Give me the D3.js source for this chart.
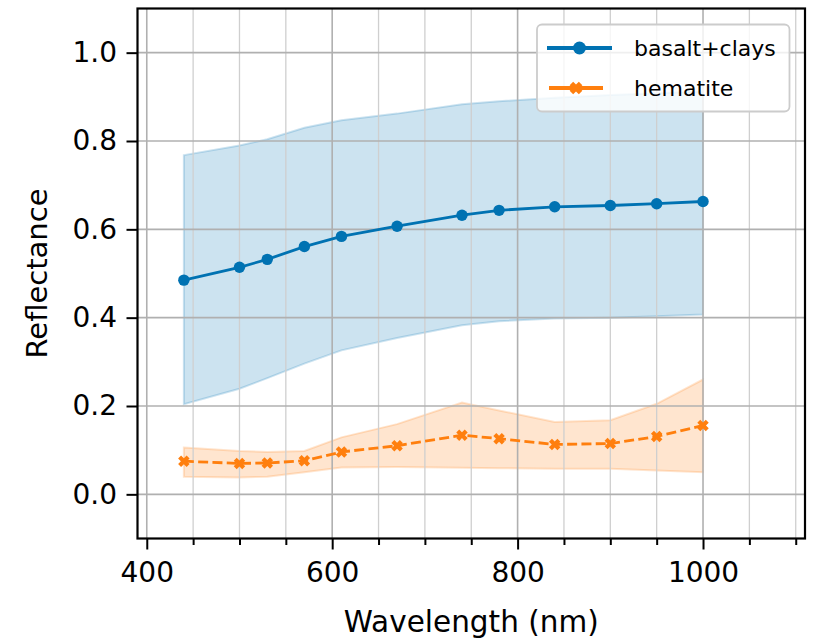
<!DOCTYPE html>
<html>
<head>
<meta charset="utf-8">
<script src="https://cdn.jsdelivr.net/npm/d3@7"></script>
<style>
  html, body { margin: 0; padding: 0; background: #ffffff; }
  svg { display: block; font-family: "DejaVu Sans", sans-serif; }
</style>
</head>
<body>
<svg id="chart" width="818" height="639"></svg>
<script>
// Wavelength samples (nm)
const wavelengths = [440, 500, 530, 570, 610, 670, 740, 780, 840, 900, 950, 1000];

// basalt+clays: mean reflectance and spread band
const basaltMean = [0.485, 0.514, 0.532, 0.561, 0.584, 0.607, 0.632, 0.643, 0.651, 0.654, 0.658, 0.663];
const basaltLow  = [0.204, 0.239, 0.263, 0.296, 0.326, 0.354, 0.383, 0.392, 0.398, 0.400, 0.403, 0.407];
const basaltHigh = [0.768, 0.790, 0.804, 0.830, 0.847, 0.862, 0.883, 0.890, 0.898, 0.904, 0.908, 0.912];

// hematite: mean reflectance and spread band
const hematiteMean = [0.075, 0.070, 0.071, 0.076, 0.096, 0.110, 0.134, 0.126, 0.113, 0.115, 0.131, 0.156];
const hematiteLow  = [0.040, 0.038, 0.040, 0.050, 0.061, 0.062, 0.060, 0.059, 0.058, 0.058, 0.054, 0.050];
const hematiteHigh = [0.106, 0.098, 0.096, 0.098, 0.129, 0.159, 0.208, 0.190, 0.164, 0.168, 0.205, 0.260];

// Axis ticks
const xMajorTicks = [400, 600, 800, 1000];
const xMinorTicks = [450, 500, 550, 650, 700, 750, 850, 900, 950, 1050, 1100];
const yTicks = [0.0, 0.2, 0.4, 0.6, 0.8, 1.0];

const seriesNames = ["basalt+clays", "hematite"];
const blue = "#0072b2";
const orange = "#ff7f0e";

const svg = d3.select("#chart");
const plotLeft = 137.5, plotRight = 805, plotTop = 8.5, plotBottom = 538.5;

const x = d3.scaleLinear().domain([390, 1110]).range([plotLeft, plotRight]);
const y = d3.scaleLinear().domain([-0.1, 1.1]).range([plotBottom, plotTop]);

const series = [
  { name: seriesNames[0], mean: basaltMean, low: basaltLow, high: basaltHigh, color: blue },
  { name: seriesNames[1], mean: hematiteMean, low: hematiteLow, high: hematiteHigh, color: orange }
];

// Filled "X" marker path centred on 0,0
function xMarker(size, arm) {
  const a = size / 2, w = arm / 2;
  const pts = [[-w, -a], [w, -a], [w, -w], [a, -w], [a, w], [w, w], [w, a], [-w, a], [-w, w], [-a, w], [-a, -w], [-w, -w]];
  const c = Math.SQRT1_2;
  return "M" + pts.map(p => [(p[0] - p[1]) * c, (p[0] + p[1]) * c].map(v => v.toFixed(2)).join(",")).join("L") + "Z";
}

// Spread bands
const bands = svg.append("g");
series.forEach(s => {
  const area = d3.area()
    .x((d, i) => x(wavelengths[i]))
    .y0((d, i) => y(s.low[i]))
    .y1((d, i) => y(s.high[i]));
  bands.append("path")
    .datum(s.mean)
    .attr("d", area)
    .attr("fill", s.color)
    .attr("fill-opacity", 0.2)
    .attr("stroke", s.color)
    .attr("stroke-opacity", 0.2)
    .attr("stroke-width", 2);
});

// Grid: minor vertical, major vertical, horizontal
const grid = svg.append("g");
grid.selectAll(".gxm").data(xMinorTicks).join("line")
  .attr("x1", d => x(d)).attr("x2", d => x(d))
  .attr("y1", plotTop).attr("y2", plotBottom)
  .attr("stroke", "#cfcfcf").attr("stroke-width", 1.3);
grid.selectAll(".gxM").data(xMajorTicks).join("line")
  .attr("x1", d => x(d)).attr("x2", d => x(d))
  .attr("y1", plotTop).attr("y2", plotBottom)
  .attr("stroke", "#b0b0b0").attr("stroke-width", 1.6);
grid.selectAll(".gy").data(yTicks).join("line")
  .attr("x1", plotLeft).attr("x2", plotRight)
  .attr("y1", d => y(d)).attr("y2", d => y(d))
  .attr("stroke", "#b0b0b0").attr("stroke-width", 1.6);

// Mean lines and markers
const lineGen = d3.line().x((d, i) => x(wavelengths[i])).y(d => y(d));
const marks = svg.append("g");
marks.append("path").datum(basaltMean).attr("d", lineGen)
  .attr("fill", "none").attr("stroke", blue).attr("stroke-width", 2.8);
marks.selectAll(".bdot").data(basaltMean).join("circle")
  .attr("cx", (d, i) => x(wavelengths[i])).attr("cy", d => y(d))
  .attr("r", 5.7).attr("fill", blue);

marks.append("path").datum(hematiteMean).attr("d", lineGen)
  .attr("fill", "none").attr("stroke", orange).attr("stroke-width", 2.8)
  .attr("stroke-dasharray", "10,4.3");
marks.selectAll(".hx").data(hematiteMean).join("path")
  .attr("transform", (d, i) => `translate(${x(wavelengths[i])},${y(d)})`)
  .attr("d", xMarker(12, 4.2)).attr("fill", orange);

// Frame
svg.append("rect")
  .attr("x", plotLeft).attr("y", plotTop)
  .attr("width", plotRight - plotLeft).attr("height", plotBottom - plotTop)
  .attr("fill", "none").attr("stroke", "#000").attr("stroke-width", 2.2);

// X axis
const xAxis = d3.axisBottom(x).tickValues(xMajorTicks).tickSize(11).tickPadding(13).tickFormat(d3.format("d"));
const gx = svg.append("g").attr("transform", `translate(0,${plotBottom})`).call(xAxis);
const xAxisMinor = d3.axisBottom(x).tickValues(xMinorTicks).tickSize(6.5).tickFormat("");
const gxm = svg.append("g").attr("transform", `translate(0,${plotBottom})`).call(xAxisMinor);

// Y axis
const yAxis = d3.axisLeft(y).tickValues(yTicks).tickSize(11).tickPadding(9.5).tickFormat(d3.format(".1f"));
const gy = svg.append("g").attr("transform", `translate(${plotLeft},0)`).call(yAxis);

[gx, gxm, gy].forEach(g => {
  g.select(".domain").remove();
  g.selectAll(".tick line").attr("stroke", "#000").attr("stroke-width", 2);
  g.selectAll(".tick text").attr("fill", "#000")
    .style("font-family", "'DejaVu Sans', sans-serif").style("font-size", "28px");
});

// Axis titles
svg.append("text")
  .attr("x", (plotLeft + plotRight) / 2).attr("y", 632)
  .attr("text-anchor", "middle")
  .style("font-size", "29.5px")
  .text("Wavelength (nm)");
svg.append("text")
  .attr("transform", `translate(47,${(plotTop + plotBottom) / 2}) rotate(-90)`)
  .attr("text-anchor", "middle")
  .style("font-size", "29px")
  .text("Reflectance");

// Legend
const lg = svg.append("g");
lg.append("rect")
  .attr("x", 537).attr("y", 24.5).attr("width", 252.5).attr("height", 87)
  .attr("rx", 5).attr("ry", 5)
  .attr("fill", "#ffffff").attr("fill-opacity", 0.8)
  .attr("stroke", "#cccccc").attr("stroke-width", 1.8);

const legendRows = [
  { name: seriesNames[0], color: blue, y: 48, marker: "circle" },
  { name: seriesNames[1], color: orange, y: 88, marker: "x" }
];
legendRows.forEach(r => {
  if (r.marker === "circle") {
    lg.append("line").attr("x1", 547).attr("x2", 612).attr("y1", r.y).attr("y2", r.y)
      .attr("stroke", r.color).attr("stroke-width", 4.2);
    lg.append("circle").attr("cx", 579.5).attr("cy", r.y).attr("r", 6.5).attr("fill", r.color);
  } else {
    lg.append("line").attr("x1", 549).attr("x2", 603).attr("y1", r.y).attr("y2", r.y)
      .attr("stroke", r.color).attr("stroke-width", 4.2);
    lg.append("path").attr("transform", `translate(576,${r.y})`)
      .attr("d", xMarker(13, 5)).attr("fill", r.color);
  }
  lg.append("text").attr("x", 634).attr("y", r.y).attr("dy", "0.35em")
    .style("font-size", "22px").attr("fill", "#000").text(r.name);
});
</script>
</body>
</html>
